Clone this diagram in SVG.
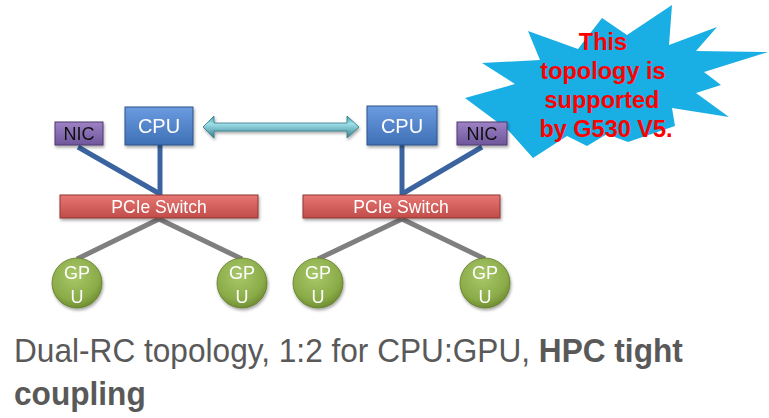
<svg xmlns="http://www.w3.org/2000/svg" width="769" height="418" viewBox="0 0 769 418">
  <defs>
    <linearGradient id="gCpu" x1="0" y1="0" x2="0" y2="1">
      <stop offset="0" stop-color="#6b9be0"/>
      <stop offset="1" stop-color="#3f70b6"/>
    </linearGradient>
    <linearGradient id="gNic" x1="0" y1="0" x2="0" y2="1">
      <stop offset="0" stop-color="#9d82c4"/>
      <stop offset="1" stop-color="#6f569c"/>
    </linearGradient>
    <linearGradient id="gSw" x1="0" y1="0" x2="0" y2="1">
      <stop offset="0" stop-color="#e77673"/>
      <stop offset="1" stop-color="#c04c49"/>
    </linearGradient>
    <radialGradient id="gGpu" cx="0.45" cy="0.35" r="0.7">
      <stop offset="0" stop-color="#a9c86a"/>
      <stop offset="0.7" stop-color="#8aab48"/>
      <stop offset="1" stop-color="#67852c"/>
    </radialGradient>
    <linearGradient id="gArrow" x1="0" y1="0" x2="0" y2="1">
      <stop offset="0" stop-color="#3f97a6"/>
      <stop offset="0.35" stop-color="#9fe0ea"/>
      <stop offset="1" stop-color="#357f8c"/>
    </linearGradient>
    <filter id="shadow" x="-20%" y="-20%" width="140%" height="160%">
      <feDropShadow dx="1" dy="2" stdDeviation="1.5" flood-color="#000" flood-opacity="0.35"/>
    </filter>
  </defs>
  <style>
    .cpu { fill: url(#gCpu); stroke: #2f5489; stroke-width: 1; }
    .nic { fill: url(#gNic); stroke: #4d3b6e; stroke-width: 1; }
    .sw { fill: url(#gSw); stroke: #8f3633; stroke-width: 1; }
    .gpu { fill: url(#gGpu); stroke: #5f7b28; stroke-width: 0.8; }
    .lbl { font-family: "Liberation Sans", Arial, sans-serif; fill: #fff; text-anchor: middle; }
    .nlbl { font-family: "Liberation Sans", Arial, sans-serif; fill: #111; text-anchor: middle; }
    .up { stroke: #3a63a0; stroke-width: 5; fill: none; }
    .down { stroke: #7f7f7f; stroke-width: 5; fill: none; }
    .burst { font-family: "Liberation Sans", Arial, sans-serif; font-weight: bold; fill: #ff0000; font-size: 23.5px; text-anchor: middle; }
    .caption { font-family: "Liberation Sans", Arial, sans-serif; fill: #595959; font-size: 34px; }
  </style>

  <!-- callout star -->
  <g id="callout">
    <polygon fill="#19aee4" points="672,5 669,45 717,27 696,51 768,52 704,72 721,85 696,93 729,117 672,108 675,126 628,142 607,134 587,146 567,136 533,158 508,130 465,98 515,84 482,63 540,60 528,31 578,49 602,18 627,35"/>
    <text class="burst" x="603" y="50">This</text>
    <text class="burst" x="603" y="79">topology is</text>
    <text class="burst" x="602" y="108">supported</text>
    <text class="burst" x="606" y="137">by G530 V5.</text>
  </g>

  <!-- connectors -->
  <g id="connectors">
    <line class="up" x1="160" y1="145" x2="160" y2="195"/>
    <line class="up" x1="78" y1="147" x2="160" y2="194"/>
    <line class="up" x1="402" y1="145" x2="402" y2="195"/>
    <line class="up" x1="482" y1="147" x2="402" y2="194"/>
    <line class="down" x1="159" y1="219" x2="77" y2="259"/>
    <line class="down" x1="159" y1="219" x2="242" y2="259"/>
    <line class="down" x1="402" y1="219" x2="318" y2="259"/>
    <line class="down" x1="402" y1="219" x2="485" y2="259"/>
    <path id="link" d="M203,127 L214,116 L214,123 L347,123 L347,116 L359,127 L347,138 L347,131 L214,131 L214,138 Z" fill="url(#gArrow)" stroke="#327a87" stroke-width="0.8" filter="url(#shadow)"/>
  </g>

  <!-- left root complex -->
  <g id="cpu1" filter="url(#shadow)">
    <rect class="cpu" x="125" y="107" width="68" height="38"/>
    <text class="lbl" x="159" y="133" font-size="20">CPU</text>
  </g>
  <g id="nic1" filter="url(#shadow)">
    <rect class="nic" x="55" y="122" width="48" height="23"/>
    <text class="nlbl" x="79" y="140" font-size="18">NIC</text>
  </g>
  <g id="switch1" filter="url(#shadow)">
    <rect class="sw" x="60" y="195" width="198" height="23"/>
    <text class="lbl" x="159" y="213" font-size="17.5">PCIe Switch</text>
  </g>
  <g id="gpu1" filter="url(#shadow)">
    <circle class="gpu" cx="77" cy="283" r="25"/>
    <text class="lbl" x="77" y="279" font-size="18">GP</text>
    <text class="lbl" x="77" y="303" font-size="18">U</text>
  </g>
  <g id="gpu2" filter="url(#shadow)">
    <circle class="gpu" cx="242" cy="283" r="25"/>
    <text class="lbl" x="242" y="279" font-size="18">GP</text>
    <text class="lbl" x="242" y="303" font-size="18">U</text>
  </g>

  <!-- right root complex -->
  <g id="cpu2" filter="url(#shadow)">
    <rect class="cpu" x="367" y="106" width="70" height="39"/>
    <text class="lbl" x="402" y="133" font-size="20">CPU</text>
  </g>
  <g id="nic2" filter="url(#shadow)">
    <rect class="nic" x="457" y="122" width="50" height="23"/>
    <text class="nlbl" x="482" y="140" font-size="18">NIC</text>
  </g>
  <g id="switch2" filter="url(#shadow)">
    <rect class="sw" x="303" y="195" width="197" height="23"/>
    <text class="lbl" x="401" y="213" font-size="17.5">PCIe Switch</text>
  </g>
  <g id="gpu3" filter="url(#shadow)">
    <circle class="gpu" cx="318" cy="283" r="25"/>
    <text class="lbl" x="318" y="279" font-size="18">GP</text>
    <text class="lbl" x="318" y="303" font-size="18">U</text>
  </g>
  <g id="gpu4" filter="url(#shadow)">
    <circle class="gpu" cx="485" cy="283" r="25"/>
    <text class="lbl" x="485" y="279" font-size="18">GP</text>
    <text class="lbl" x="485" y="303" font-size="18">U</text>
  </g>

  <!-- caption, slightly condensed -->
  <g id="caption" transform="translate(14,0) scale(0.93,1)">
    <text class="caption" x="0" y="362">Dual-RC topology, 1:2 for CPU:GPU, <tspan font-weight="bold">HPC tight</tspan></text>
    <text class="caption" x="0" y="405" font-weight="bold">coupling</text>
  </g>
</svg>
